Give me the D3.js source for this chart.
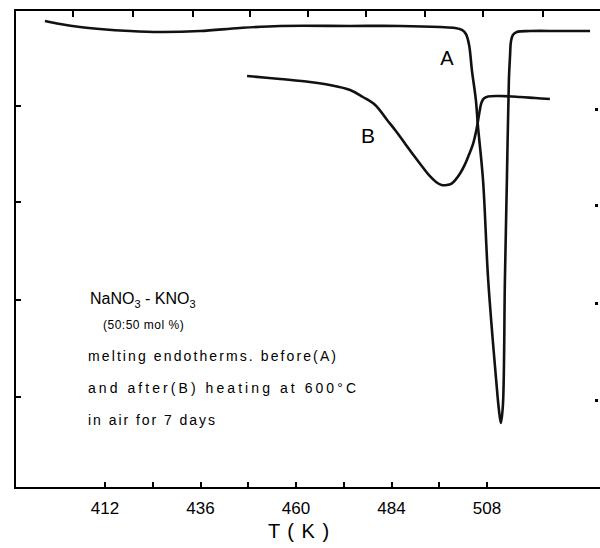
<!DOCTYPE html>
<html>
<head>
<meta charset="utf-8">
<script src="https://cdn.jsdelivr.net/npm/d3@7"></script>
</head>
<body style="margin:0">
<div id="chart"></div>
<script>
// temperature (K) and signal (arbitrary units)
const curveA_T = [396.9, 400.7, 405.7, 410.7, 418.3, 425.8, 435.9, 445.9, 456.0, 473.6, 486.1, 496.2, 500.0,
  501.7, 502.7, 503.5, 504.2, 505.2, 505.7, 507.0, 508.3, 510.3, 511.0, 511.5, 512.0, 512.5, 513.0, 513.5,
  513.8, 514.0, 514.5, 515.5, 518.8, 526.3, 533.9];
const curveA_v = [4.885, 4.854, 4.822, 4.801, 4.780, 4.770, 4.780, 4.812, 4.833, 4.833, 4.833, 4.822, 4.812,
  4.791, 4.749, 4.634, 4.372, 4.059, 3.797, 3.222, 2.176, 1.130, 0.816, 0.680, 0.868, 2.176, 3.222, 4.268,
  4.529, 4.665, 4.739, 4.770, 4.780, 4.780, 4.780];

const curveB_T = [447.7, 456.0, 463.5, 468.5, 473.6, 476.8, 479.9, 482.9, 485.1, 487.3, 489.7, 491.8, 493.6,
  495.2, 496.6, 497.9, 499.1, 500.2, 501.3, 502.4, 503.4, 504.5, 505.4, 506.1, 506.6, 507.2, 508.3, 511.3,
  516.3, 520.1, 523.8];
const curveB_v = [4.310, 4.278, 4.247, 4.215, 4.163, 4.090, 4.006, 3.849, 3.734, 3.609, 3.473, 3.358, 3.264,
  3.201, 3.169, 3.169, 3.185, 3.230, 3.295, 3.380, 3.480, 3.600, 3.760, 3.930, 4.030, 4.075, 4.095, 4.100,
  4.090, 4.079, 4.069];

const xTickLabels = [412, 436, 460, 484, 508];
const xTicks = [412, 424, 436, 448, 460, 472, 484, 496, 508];
const topTicks = [404, 419, 434, 448.5, 463, 477.5, 492.5, 507, 522];
const yTicks = [0.95, 1.97, 2.99, 4.0];

const width = 600;
const height = 548;

const x = d3.scaleLinear().domain([412, 508]).range([105, 487]);
const y = d3.scaleLinear().domain([0, 5]).range([488, 10]);

const xLeft = x.invert(15);
const xRight = x.invert(600);

const svg = d3.select("#chart")
  .append("svg")
  .attr("width", width)
  .attr("height", height)
  .style("display", "block")
  .attr("font-family", "Liberation Sans, Arial, sans-serif");

const curve = d3.line()
  .x(d => x(d[0]))
  .y(d => y(d[1]))
  .curve(d3.curveCatmullRom.alpha(0.5));

svg.append("path")
  .datum(d3.zip(curveA_T, curveA_v))
  .attr("d", curve)
  .attr("fill", "none")
  .attr("stroke", "#111")
  .attr("stroke-width", 2.6)
  .attr("stroke-linejoin", "round");

svg.append("path")
  .datum(d3.zip(curveB_T, curveB_v))
  .attr("d", curve)
  .attr("fill", "none")
  .attr("stroke", "#111")
  .attr("stroke-width", 2.6)
  .attr("stroke-linejoin", "round");

// frame and ticks
const frame = svg.append("g")
  .attr("stroke", "#000")
  .attr("fill", "none")
  .attr("shape-rendering", "crispEdges");

frame.append("rect")
  .attr("x", x(xLeft))
  .attr("y", y(5))
  .attr("width", x(xRight) - x(xLeft) + 5)
  .attr("height", y(0) - y(5))
  .attr("stroke-width", 2.5);

frame.selectAll(".xtick")
  .data(xTicks)
  .enter().append("rect")
  .attr("class", "xtick")
  .attr("x", d => x(d) - 1)
  .attr("y", y(0) - 6)
  .attr("width", 2)
  .attr("height", 6)
  .attr("stroke", "none")
  .attr("fill", "#000");

frame.selectAll(".ttick")
  .data(topTicks)
  .enter().append("rect")
  .attr("class", "ttick")
  .attr("x", d => x(d) - 1)
  .attr("y", y(5))
  .attr("width", 2)
  .attr("height", 7)
  .attr("stroke", "none")
  .attr("fill", "#000");

frame.selectAll(".ytick")
  .data(yTicks)
  .enter().append("rect")
  .attr("class", "ytick")
  .attr("x", x(xLeft))
  .attr("y", d => y(d) - 1)
  .attr("width", 6)
  .attr("height", 2)
  .attr("stroke", "none")
  .attr("fill", "#000");

frame.selectAll(".rtick")
  .data(yTicks)
  .enter().append("rect")
  .attr("class", "rtick")
  .attr("x", x(xRight) - 5)
  .attr("y", d => y(d) + 2)
  .attr("width", 3)
  .attr("height", 3)
  .attr("stroke", "none")
  .attr("fill", "#000");

svg.selectAll(".xlabel")
  .data(xTickLabels)
  .enter().append("text")
  .attr("class", "xlabel")
  .attr("x", d => x(d))
  .attr("y", 514)
  .attr("text-anchor", "middle")
  .attr("font-size", 17)
  .text(d => d);

svg.append("text")
  .attr("x", 299)
  .attr("y", 538)
  .attr("text-anchor", "middle")
  .attr("font-size", 20)
  .attr("letter-spacing", 1)
  .text("T ( K )");

svg.append("text")
  .attr("x", 447).attr("y", 65)
  .attr("text-anchor", "middle")
  .attr("font-size", 20)
  .text("A");

svg.append("text")
  .attr("x", 368).attr("y", 143)
  .attr("text-anchor", "middle")
  .attr("font-size", 21)
  .text("B");

// annotation block
const t1 = svg.append("text")
  .attr("x", 90).attr("y", 304)
  .attr("font-size", 16);
t1.append("tspan").text("NaNO");
t1.append("tspan").attr("font-size", 11).attr("dy", 4).text("3");
t1.append("tspan").attr("dy", -4).text(" - KNO");
t1.append("tspan").attr("font-size", 11).attr("dy", 4).text("3");

svg.append("text")
  .attr("x", 103).attr("y", 329)
  .attr("font-size", 12)
  .attr("letter-spacing", 0.5)
  .text("(50:50 mol %)");

const notes = ["melting endotherms. before(A)", "and after(B) heating at 600°C", "in air for 7 days"];
const noteLen = [248, 268, 127];

svg.selectAll(".note")
  .data(notes)
  .enter().append("text")
  .attr("class", "note")
  .attr("x", 88)
  .attr("y", (d, i) => 361 + i * 32)
  .attr("font-size", 14)
  .attr("textLength", (d, i) => noteLen[i])
  .attr("lengthAdjust", "spacing")
  .text(d => d);
</script>
</body>
</html>
